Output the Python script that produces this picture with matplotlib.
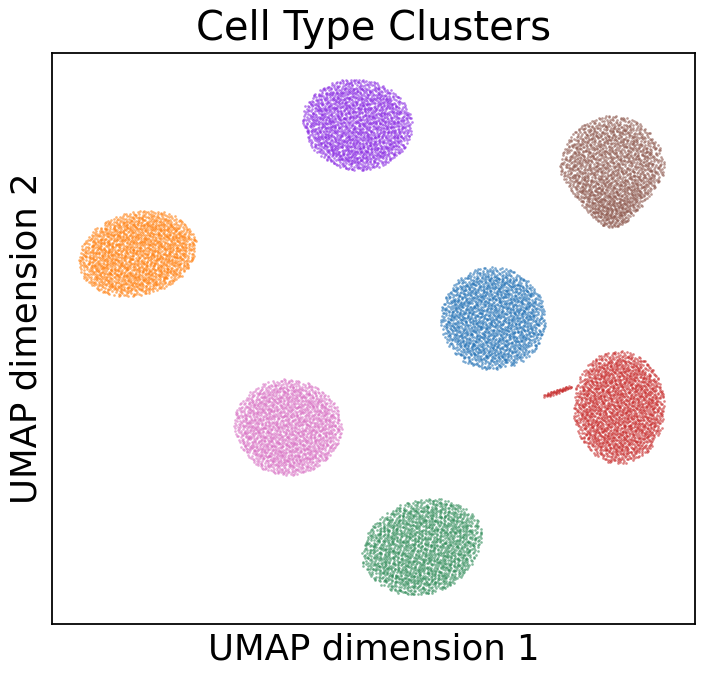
import numpy as np
import matplotlib
matplotlib.use("Agg")
import matplotlib.pyplot as plt

# cluster components (UMAP units)
# red is one blob plus a thin tail pointing left
comp_type = ["blue", "orange", "green", "red", "red", "purple", "brown", "pink"]
comp_x = [9.72, -1.33, 7.51, 13.64, 11.75, 5.49, 13.42, 3.34]
comp_y = [7.53, 9.55, 0.40, 4.76, 5.26, 13.56, 12.10, 4.14]
comp_rx = [1.56, 1.78, 1.84, 1.36, 0.52, 1.66, 1.56, 1.62]
comp_ry = [1.53, 1.24, 1.40, 1.68, 0.06, 1.36, 1.68, 1.44]
comp_angle = [0, 14, 18, 0, 19, -8, 0, -5]
comp_taper = [0.0, 0.0, 0.1, 0.0, 0.0, 0.1, 0.45, 0.1]  # narrowing towards the bottom
comp_n = [1750, 1750, 1750, 1850, 50, 1750, 1750, 1750]

type_colors = {
    "blue": "#1f6fb4",
    "orange": "#ff7f0e",
    "green": "#2e8b57",
    "red": "#c62828",
    "purple": "#8a2be2",
    "brown": "#8c564b",
    "pink": "#d871c4",
}


def halton(i, base):
    f, r = 1.0, 0.0
    while i > 0:
        f = f / base
        r = r + f * (i % base)
        i = i // base
    return r


def fill_blob(cx, cy, rx, ry, angle, taper, n, start):
    # deterministic quasi-uniform filling of an ellipse, a bit thinner at the rim
    pts = []
    k = start
    while len(pts) < n:
        u = 2 * halton(k, 2) - 1
        v = 2 * halton(k, 3) - 1
        k += 1
        if u * u + v * v > 1:
            continue
        pts.append((u, v))
    pts = np.array(pts)
    u, v = pts[:, 0], pts[:, 1]
    r = np.hypot(u, v)
    r2 = np.where(r < 0.88, r, 0.88 + (r - 0.88) * 1.4)
    scale = np.where(r > 0, r2 / np.maximum(r, 1e-9), 1.0)
    u = u * scale
    v = v * scale
    u = u * (1 - taper * np.clip(-v, 0, 1))
    x = u * rx
    y = v * ry
    a = np.deg2rad(angle)
    xr = cx + x * np.cos(a) - y * np.sin(a)
    yr = cy + x * np.sin(a) + y * np.cos(a)
    return xr, yr


fig = plt.figure(figsize=(4.45, 4.2375), dpi=160)
ax = fig.add_axes([0.073, 0.0796, 0.903, 0.8422])

for i in range(len(comp_type)):
    xs, ys = fill_blob(comp_x[i], comp_y[i], comp_rx[i], comp_ry[i],
                       comp_angle[i], comp_taper[i], comp_n[i], start=1 + 3000 * i)
    ax.scatter(xs, ys, s=1.4, color=type_colors[comp_type[i]], alpha=0.6, lw=0)

ax.set_xlim(-4, 16)
ax.set_ylim(-2.0, 15.8)
ax.set_xticks([])
ax.set_yticks([])
ax.set_title("Cell Type Clusters", fontsize=18)
ax.set_xlabel("UMAP dimension 1", fontsize=16)
ax.set_ylabel("UMAP dimension 2", fontsize=16)

plt.savefig("out.png", dpi=160)
